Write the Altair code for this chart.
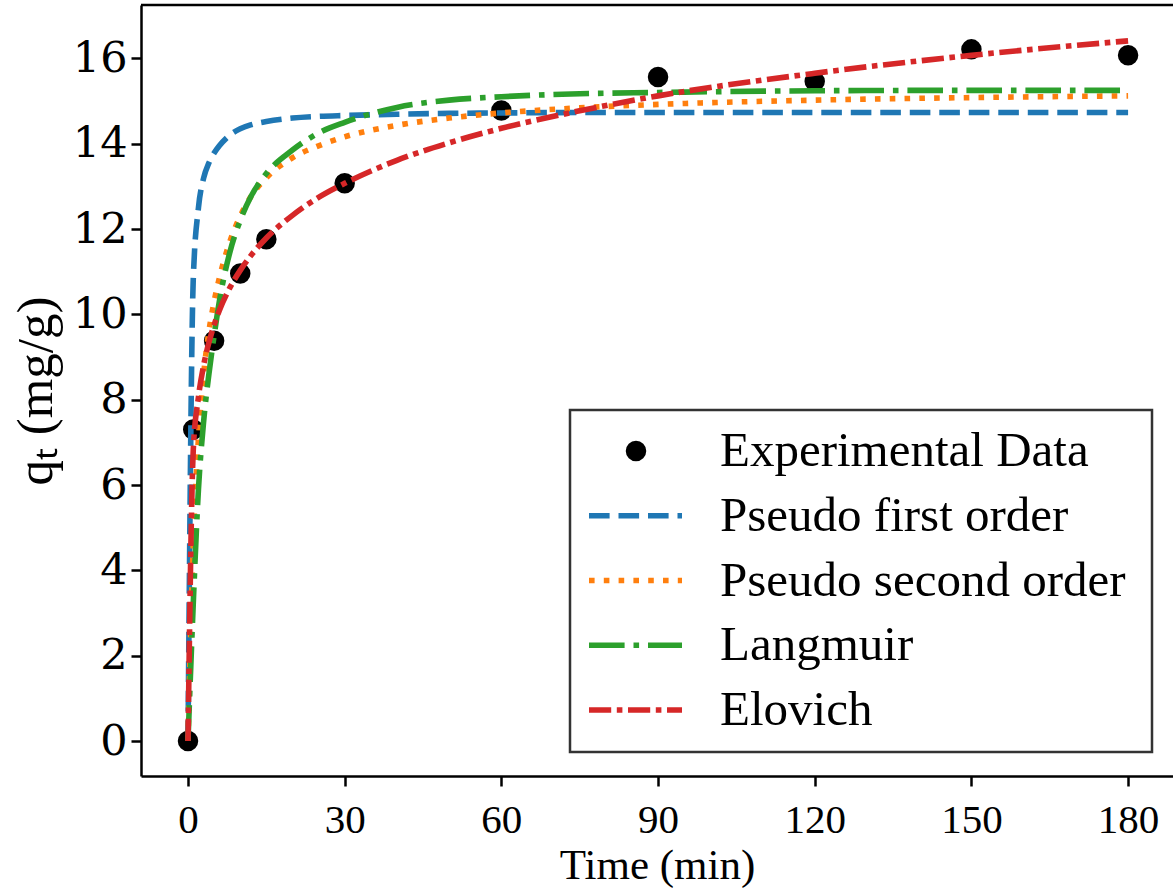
import altair as alt
import pandas as pd

# Experimental data
exp_t = [0, 1, 5, 10, 15, 30, 60, 90, 120, 150, 180]
exp_q = [0, 7.3, 9.38, 10.96, 11.76, 13.07, 14.78, 15.56, 15.46, 16.21, 16.07]

# Model curves
model_t = [0, 1, 2, 3, 4, 5, 6, 8, 10, 12, 15, 20, 25, 30, 40, 50, 60, 75, 90, 120, 150, 180]
pfo_q = [0, 10.8, 12.5, 13.2, 13.55, 13.78, 13.95, 14.2, 14.35, 14.44, 14.52, 14.6, 14.64,
         14.66, 14.69, 14.71, 14.72, 14.73, 14.73, 14.73, 14.73, 14.73]
pso_q = [0, 4.6, 7.1, 8.6, 9.6, 10.3, 10.85, 11.7, 12.3, 12.75, 13.2, 13.67, 13.95,
         14.16, 14.43, 14.6, 14.72, 14.84, 14.92, 15.02, 15.08, 15.12]
lang_q = [0, 3.2, 5.9, 7.5, 8.6, 9.5, 10.3, 11.45, 12.2, 12.75, 13.3, 13.85, 14.25,
          14.5, 14.85, 15.02, 15.1, 15.17, 15.2, 15.24, 15.25, 15.25]
elov_q = [0, 6.8, 8.06, 8.81, 9.34, 9.75, 10.09, 10.62, 11.03, 11.37, 11.79, 12.32, 12.74,
          13.07, 13.61, 14.02, 14.36, 14.77, 15.12, 15.65, 16.07, 16.41]

series_names = ["Experimental Data", "Pseudo first order", "Pseudo second order", "Langmuir", "Elovich"]
series_colors = ["#000000", "#1f77b4", "#ff7f0e", "#2ca02c", "#d62728"]
series_dashes = [[1, 0], [20.6, 8.9], [5.6, 9.2], [35.6, 8.9, 5.6, 8.9], [22.2, 5.6, 5.6, 5.6]]

W, H = 1032, 771
LW = 5.6

x_enc = alt.X("t:Q", scale=alt.Scale(domain=[-9, 188.6], nice=False, zero=False),
              axis=alt.Axis(values=[0, 30, 60, 90, 120, 150, 180], title="Time (min)",
                            labelFont="Liberation Serif", labelFontSize=41, labelPadding=14,
                            titleFont="Liberation Serif", titleFontSize=43, titlePadding=4))
y_enc = alt.Y("q:Q", scale=alt.Scale(domain=[-0.82, 17.25], nice=False, zero=False),
              axis=alt.Axis(values=[0, 2, 4, 6, 8, 10, 12, 14, 16], title="qₜ (mg/g)",
                            labelFont="DejaVu Serif", labelFontSize=43, labelPadding=4,
                            titleFont="Liberation Serif", titleFontSize=51, titlePadding=10))

exp_df = pd.DataFrame({"t": exp_t, "q": exp_q})
points = alt.Chart(exp_df).mark_point(filled=True, size=420, color="black", opacity=1).encode(x=x_enc, y=y_enc)


def curve(qs, i):
    df = pd.DataFrame({"t": model_t, "q": qs})
    return alt.Chart(df).mark_line(color=series_colors[i], strokeDash=series_dashes[i],
                                   strokeWidth=LW, interpolate="monotone").encode(x=x_enc, y=y_enc)


top_rule = alt.Chart(alt.Data(values=[{}])).mark_rule(color="black", strokeWidth=2.5).encode(
    x=alt.value(0), x2=alt.value(W), y=alt.value(0))

main = alt.layer(points, curve(pfo_q, 1), curve(pso_q, 2), curve(lang_q, 3), curve(elov_q, 4), top_rule)

# Legend
leg_df = pd.DataFrame({"label": series_names, "row": list(range(len(series_names)))})
row_y = alt.Y("row:Q", scale=alt.Scale(domain=[0, 4], range=[446, 705], nice=False, zero=False), axis=None)

box = alt.Chart(alt.Data(values=[{}])).mark_rect(fill="white", stroke="#333333", strokeWidth=2.5).encode(
    x=alt.value(429), x2=alt.value(1011), y=alt.value(405), y2=alt.value(747))
leg_lines = alt.Chart(leg_df).transform_filter("datum.row > 0").mark_rule(strokeWidth=LW).encode(
    x=alt.value(448), x2=alt.value(541), y=row_y,
    color=alt.Color("label:N", scale=alt.Scale(domain=series_names, range=series_colors), legend=None),
    strokeDash=alt.StrokeDash("label:N", scale=alt.Scale(domain=series_names, range=series_dashes), legend=None))
leg_point = alt.Chart(leg_df).transform_filter("datum.row == 0").mark_point(
    filled=True, size=420, color="black", opacity=1).encode(x=alt.value(495), y=row_y)
leg_text = alt.Chart(leg_df).mark_text(align="left", baseline="middle", font="Liberation Serif",
                                       fontSize=49, color="black").encode(
    x=alt.value(579), y=row_y, text="label:N")

legend = alt.layer(box, leg_lines, leg_point, leg_text)

chart = alt.layer(main, legend).resolve_scale(y="independent").properties(
    width=W, height=H,
    autosize=alt.AutoSizeParams(type="none"),
    padding={"left": 141, "top": 5, "right": 0, "bottom": 116},
    background="white",
).configure_view(stroke=None).configure_axis(
    grid=False, domainColor="black", domainWidth=2.5, tickColor="black", tickWidth=2.5,
    tickSize=10, labelColor="black", titleColor="black", titleFontWeight="normal", labelFlush=False,
)

chart.save("out.html", embed_options={"renderer": "svg", "actions": False})
